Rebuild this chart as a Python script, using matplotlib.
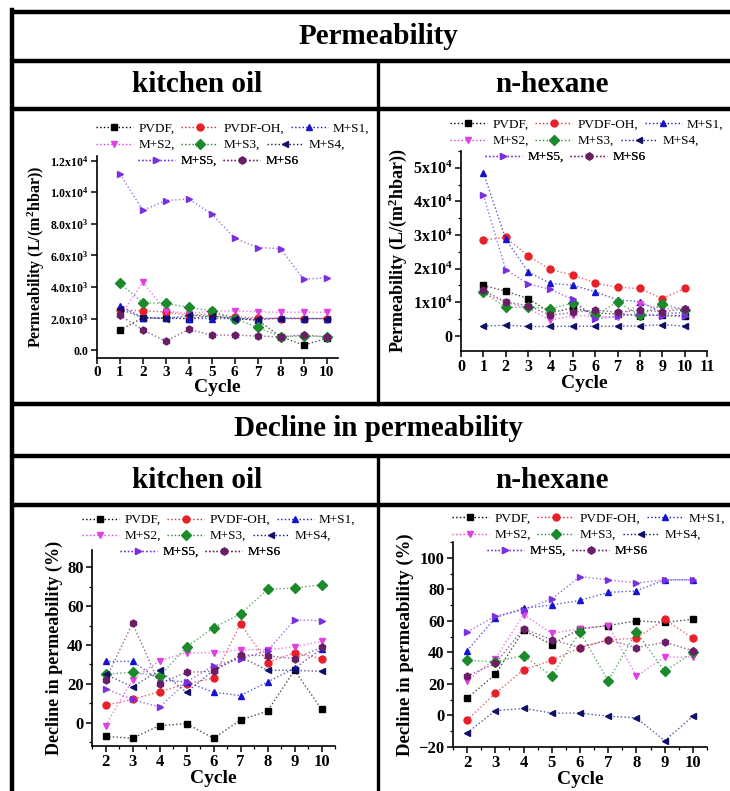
import matplotlib
matplotlib.use('Agg')
import matplotlib.pyplot as plt
from matplotlib.lines import Line2D
from matplotlib.ticker import AutoMinorLocator, FixedLocator

plt.rcParams['font.family'] = ['Liberation Serif', 'DejaVu Serif']
plt.rcParams['mathtext.fontset'] = 'custom'
plt.rcParams['mathtext.rm'] = 'Liberation Serif:bold'
plt.rcParams['mathtext.it'] = 'Liberation Serif:bold'
plt.rcParams['mathtext.bf'] = 'Liberation Serif:bold'

series = ['PVDF,', 'PVDF-OH,', 'M+S1,', 'M+S2,', 'M+S3,', 'M+S4,', 'M+S5,', 'M+S6']
colors = ['#000000', '#e8202a', '#1414d0', '#e040e0', '#1a8a2a', '#10106a', '#7a30e0', '#6a1e66']
markers = ['s', 'o', '^', 'v', 'D', '<', '>', 'h']

cycles_p = list(range(1, 11))
cycles_d = list(range(2, 11))

# permeability, kitchen oil (L/(m2 h bar))
perm_oil_pvdf = [1270, 2050, 2010, 2000, 2160, 2000, 1900, 850, 320, 740]
perm_oil_pvdf_oh = [2540, 2480, 2430, 2200, 2300, 2100, 2050, 2000, 2000, 2000]
perm_oil_s1 = [2810, 2050, 2050, 2000, 2000, 2000, 1900, 2050, 2000, 2000]
perm_oil_s2 = [2160, 4300, 2500, 2300, 2480, 2480, 2430, 2400, 2400, 2400]
perm_oil_s3 = [4230, 3000, 2960, 2710, 2480, 2000, 1440, 850, 900, 850]
perm_oil_s4 = [2600, 2050, 2000, 2200, 2150, 2000, 2000, 2000, 2000, 2000]
perm_oil_s5 = [11150, 8850, 9480, 9570, 8630, 7090, 6500, 6430, 4490, 4590]
perm_oil_s6 = [2200, 1270, 570, 1310, 950, 950, 890, 850, 950, 850]

# permeability, n-hexane
perm_hex_pvdf = [15000, 13300, 11100, 6900, 8300, 6800, 6500, 6000, 6200, 5900]
perm_hex_pvdf_oh = [28500, 29300, 23800, 19750, 18060, 15770, 14400, 14100, 11100, 14100]
perm_hex_s1 = [48600, 28800, 19050, 15600, 15100, 13100, 10700, 10200, 6800, 6800]
perm_hex_s2 = [12800, 10000, 8200, 4600, 6100, 5800, 5500, 9600, 8100, 8100]
perm_hex_s3 = [13000, 8450, 8600, 8100, 9750, 6100, 10100, 6100, 9400, 7800]
perm_hex_s4 = [2900, 3200, 2800, 2800, 2850, 2850, 2900, 2950, 3350, 2900]
perm_hex_s5 = [41900, 19700, 15500, 13800, 10900, 5000, 5900, 6700, 5900, 5900]
perm_hex_s6 = [13500, 10100, 9000, 6100, 7000, 7700, 7000, 7700, 7200, 8000]

# decline in permeability (%), kitchen oil
dec_oil_pvdf = [-7, -8, -1.5, -0.5, -8, 1.3, 6, 27, 7]
dec_oil_pvdf_oh = [9, 12, 16, 20, 23, 51, 31, 36, 33]
dec_oil_s1 = [31.6, 31.6, 22, 21, 15.7, 14, 21, 28, 38]
dec_oil_s2 = [-1.5, 22, 32, 36, 36, 37.6, 37.6, 39, 42]
dec_oil_s3 = [25, 26, 24, 39, 49, 56, 68.7, 69.5, 71]
dec_oil_s4 = [25, 18.5, 27, 15.7, 27, 34, 27, 27, 26.5]
dec_oil_s5 = [17.5, 12, 8, 21, 29.4, 33, 37, 53, 52.6]
dec_oil_s6 = [22, 51.3, 20, 26, 26.5, 35, 34.5, 33, 38.8]

# decline in permeability (%), n-hexane
dec_hex_pvdf = [11, 26, 54, 45, 55, 57, 60, 59, 61]
dec_hex_pvdf_oh = [-3, 14, 29, 35, 43, 48, 49, 61, 49]
dec_hex_s1 = [41, 62, 68, 70, 73, 78, 79, 86, 86]
dec_hex_s2 = [22, 36, 64, 52, 55, 57, 25, 37, 37]
dec_hex_s3 = [35, 34, 38, 25, 53, 22, 53, 28, 40]
dec_hex_s4 = [-11, 3, 4.5, 1.5, 1.5, -0.5, -1.5, -16, -0.5]
dec_hex_s5 = [53, 63, 67, 74, 88, 86, 84, 86, 86]
dec_hex_s6 = [25, 33, 55, 48, 43, 48, 43, 46.5, 41]

perm_oil = [perm_oil_pvdf, perm_oil_pvdf_oh, perm_oil_s1, perm_oil_s2,
            perm_oil_s3, perm_oil_s4, perm_oil_s5, perm_oil_s6]
perm_hex = [perm_hex_pvdf, perm_hex_pvdf_oh, perm_hex_s1, perm_hex_s2,
            perm_hex_s3, perm_hex_s4, perm_hex_s5, perm_hex_s6]
dec_oil = [dec_oil_pvdf, dec_oil_pvdf_oh, dec_oil_s1, dec_oil_s2,
           dec_oil_s3, dec_oil_s4, dec_oil_s5, dec_oil_s6]
dec_hex = [dec_hex_pvdf, dec_hex_pvdf_oh, dec_hex_s1, dec_hex_s2,
           dec_hex_s3, dec_hex_s4, dec_hex_s5, dec_hex_s6]

W, H = 730, 791
fig = plt.figure(figsize=(W / 100, H / 100), dpi=100)


def px_axes(left, top, right, bottom):
    return fig.add_axes([left / W, 1 - bottom / H, (right - left) / W, (bottom - top) / H])


# table frame
frame = fig.add_axes([0, 0, 1, 1])
frame.set_xlim(0, W)
frame.set_ylim(H, 0)
frame.axis('off')
for y in [12, 61, 109, 404, 456, 505]:
    frame.plot([12, 732], [y, y], color='black', lw=3.2, solid_capstyle='butt')
frame.plot([12, 12], [10, 795], color='black', lw=3.2)
frame.plot([378, 378], [61, 404], color='black', lw=2.4)
frame.plot([378, 378], [456, 795], color='black', lw=2.4)

head = dict(ha='center', va='center', fontsize=21, fontweight='bold')
frame.text(378, 37, 'Permeability', **head)
frame.text(197, 85, 'kitchen oil', **head)
frame.text(552, 85, 'n-hexane', **head)
frame.text(378, 429, 'Decline in permeability', **head)
frame.text(197, 480, 'kitchen oil', **head)
frame.text(552, 480, 'n-hexane', **head)


def draw(ax, x, data, tsize):
    for vals, c, m in zip(data, colors, markers):
        ax.plot(x, vals, linestyle=':', lw=1.0, color=c, alpha=0.7)
        ax.plot(x, vals, linestyle='none', marker=m, ms=5, color=c, mec=c)
    for s in ['top', 'right']:
        ax.spines[s].set_visible(False)
    for s in ['left', 'bottom']:
        ax.spines[s].set_linewidth(1.2)
    ax.tick_params(which='major', direction='out', length=4, width=1.1, labelsize=tsize, pad=2)
    ax.tick_params(which='minor', direction='out', length=2, width=0.9)
    ax.set_xlabel('Cycle', fontsize=14, fontweight='bold', labelpad=0)


def bold_ticks(ax):
    for lab in ax.get_xticklabels() + ax.get_yticklabels():
        lab.set_fontweight('bold')


def legend_rows(ax, x0, y0, dx_rows):
    handles = [Line2D([0], [0], linestyle=':', color=c, marker=m, ms=5, lw=1.0)
               for c, m in zip(colors, markers)]
    rows = [(0, 3), (3, 6), (6, 8)]
    for i, (a, b) in enumerate(rows):
        leg = ax.legend(handles[a:b], series[a:b], ncol=b - a, frameon=False,
                        loc='center left', fontsize=9.5, handlelength=2.8,
                        handletextpad=0.4, columnspacing=0.5, borderpad=0,
                        borderaxespad=0,
                        bbox_to_anchor=((x0 + dx_rows[i]) / W, 1 - (y0 + 16 * i) / H),
                        bbox_transform=fig.transFigure)
        ax.add_artist(leg)


# top-left: permeability kitchen oil
ax1 = px_axes(97, 156, 338, 358)
draw(ax1, cycles_p, perm_oil, 11)
ax1.set_xlim(0, 10.5)
ax1.set_ylim(-500, 12300)
ax1.set_xticks(range(0, 11))
ax1.yaxis.set_major_locator(FixedLocator([0, 2000, 4000, 6000, 8000, 10000, 12000]))
ax1.set_yticklabels(['0.0', '2.0x10$^3$', '4.0x10$^3$', '6.0x10$^3$', '8.0x10$^3$',
                     '1.0x10$^4$', '1.2x10$^4$'], fontsize=8.5, fontweight='bold')
ax1.set_ylabel('Permeability (L/(m$^2$hbar))', fontsize=11.5, fontweight='bold', labelpad=2)
bold_ticks(ax1)
legend_rows(ax1, 96, 129, [0, 0, 42])

# top-right: permeability n-hexane
ax2 = px_axes(461, 151, 707, 351)
draw(ax2, cycles_p, perm_hex, 11.5)
ax2.set_xlim(0, 11)
ax2.set_ylim(-4500, 55000)
ax2.set_xticks(range(0, 12))
ax2.yaxis.set_major_locator(FixedLocator([0, 10000, 20000, 30000, 40000, 50000]))
ax2.yaxis.set_minor_locator(AutoMinorLocator(2))
ax2.set_yticklabels(['0', '1x10$^4$', '2x10$^4$', '3x10$^4$', '4x10$^4$', '5x10$^4$'],
                    fontsize=11.5, fontweight='bold')
ax2.set_ylabel('Permeability (L/(m$^2$hbar))', fontsize=13, fontweight='bold', labelpad=3)
bold_ticks(ax2)
legend_rows(ax2, 450, 125, [0, 0, 35])

# bottom-left: decline kitchen oil
ax3 = px_axes(92, 550, 335, 746)
draw(ax3, cycles_d, dec_oil, 12)
ax3.set_xlim(1.5, 10.5)
ax3.set_ylim(-12, 89)
ax3.set_xticks(range(2, 11))
ax3.xaxis.set_minor_locator(AutoMinorLocator(2))
ax3.set_yticks([0, 20, 40, 60, 80])
ax3.yaxis.set_minor_locator(AutoMinorLocator(2))
ax3.set_ylabel('Decline in permeability (%)', fontsize=13, fontweight='bold', labelpad=3)
bold_ticks(ax3)
legend_rows(ax3, 82, 520, [0, 0, 38])

# bottom-right: decline n-hexane
ax4 = px_axes(453, 542, 707, 747)
draw(ax4, cycles_d, dec_hex, 12)
ax4.set_xlim(1.5, 10.5)
ax4.set_ylim(-20, 110)
ax4.set_xticks(range(2, 11))
ax4.xaxis.set_minor_locator(AutoMinorLocator(2))
ax4.set_yticks([-20, 0, 20, 40, 60, 80, 100])
ax4.yaxis.set_minor_locator(AutoMinorLocator(2))
ax4.set_ylabel('Decline in permeability (%)', fontsize=13.5, fontweight='bold', labelpad=3)
bold_ticks(ax4)
legend_rows(ax4, 452, 519, [0, 0, 35])

fig.savefig('out.png', dpi=100)
